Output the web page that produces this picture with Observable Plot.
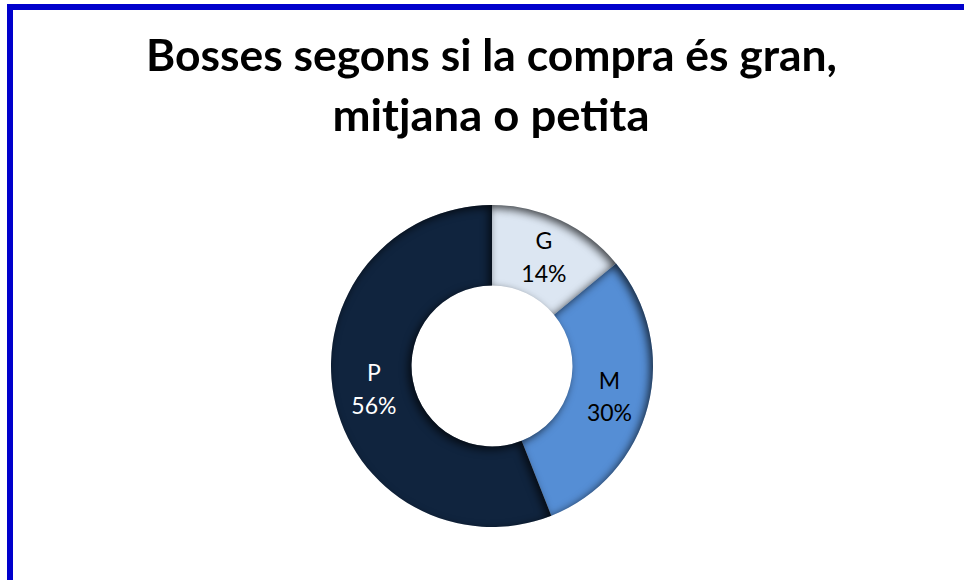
<!DOCTYPE html>
<html>
<head>
<meta charset="utf-8">
<script src="https://cdn.jsdelivr.net/npm/d3@7"></script>
<script src="https://cdn.jsdelivr.net/npm/@observablehq/plot@0.6"></script>
<style>
  html, body { margin: 0; padding: 0; background: #ffffff; }
  #wrap { position: relative; width: 964px; height: 580px; overflow: hidden; background: #ffffff; }
  #frame { position: absolute; left: 7px; top: 4px; width: 1100px; height: 900px; border: 6px solid #0000cc; box-sizing: border-box; }
  .tline { position: absolute; left: 9px; width: 964px; text-align: center; font-family: Lato, "Open Sans", sans-serif; font-weight: 700; font-size: 43px; line-height: 48px; color: #000; white-space: nowrap; }
  #chart { position: absolute; left: 0; top: 160px; }
</style>
</head>
<body>
<div id="wrap">
  <div id="frame"></div>
  <div class="tline" id="t1" style="top:31px"><span></span></div>
  <div class="tline" id="t2" style="top:91px"><span></span></div>
  <div id="chart"></div>
</div>
<script>
// ---- data ----
const titleLines = ["Bosses segons si la compra és gran,", "mitjana o petita"];
const categories = ["G", "M", "P"];
const values = [14, 30, 56];
const sliceColors = ["#dce6f2", "#558ed5", "#10243e"];
const labelColors = ["#000000", "#000000", "#ffffff"];
const titleWidths = [691, 317];

// ---- title ----
const ctx = document.createElement("canvas").getContext("2d");
ctx.font = "700 43px Lato";
["t1", "t2"].forEach((id, i) => {
  const el = document.querySelector("#" + id + " span");
  el.textContent = titleLines[i];
  el.style.display = "inline-block";
  const w = ctx.measureText(titleLines[i]).width;
  el.style.transform = `scaleX(${titleWidths[i] / w})`;
  el.style.transformOrigin = "center";
});

// ---- chart ----
const W = 964, H = 420;
const cx = 492, cy = 206;
const rInner = 80.5, rOuter = 161;

const rows = categories.map((c, i) => ({cat: c, value: values[i], label: labelColors[i]}));
const arcs = d3.pie().sort(null).value(d => d.value)(rows);
const arcGen = d3.arc().innerRadius(rInner).outerRadius(rOuter);
const color = Plot.scale({color: {domain: categories, range: sliceColors}});

function donut(index, scales, values, dimensions) {
  const g = d3.create("svg:g");
  const defs = g.append("defs");
  const f = defs.append("filter").attr("id", "inner-shadow")
    .attr("x", "-20%").attr("y", "-20%").attr("width", "140%").attr("height", "140%")
    .attr("color-interpolation-filters", "sRGB");
  f.append("feComponentTransfer").attr("in", "SourceAlpha").attr("result", "inv")
    .append("feFuncA").attr("type", "table").attr("tableValues", "1 0");
  f.append("feOffset").attr("in", "inv").attr("dx", -3).attr("dy", 3).attr("result", "off");
  f.append("feGaussianBlur").attr("in", "off").attr("stdDeviation", 4.5).attr("result", "blur");
  f.append("feFlood").attr("flood-color", "#000").attr("flood-opacity", 0.7).attr("result", "col");
  f.append("feComposite").attr("in", "col").attr("in2", "blur").attr("operator", "in").attr("result", "sh");
  f.append("feComposite").attr("in", "sh").attr("in2", "SourceAlpha").attr("operator", "in").attr("result", "shIn");
  const m = f.append("feMerge");
  m.append("feMergeNode").attr("in", "SourceGraphic");
  m.append("feMergeNode").attr("in", "shIn");

  g.append("g").attr("transform", `translate(${cx},${cy})`)
    .selectAll("path").data(arcs).join("path")
    .attr("d", arcGen)
    .attr("fill", d => color.apply(d.data.cat))
    .attr("filter", "url(#inner-shadow)");
  return g.node();
}

const chart = Plot.plot({
  width: W,
  height: H,
  margin: 0,
  style: {background: "transparent", overflow: "visible"},
  x: {type: "identity", axis: null},
  y: {type: "identity", axis: null},
  marks: [
    donut,
    Plot.text(arcs, {
      x: d => cx + arcGen.centroid(d)[0],
      y: d => cy + arcGen.centroid(d)[1],
      dy: -2,
      text: d => `${d.data.cat}\n${d.data.value}%`,
      fill: d => d.data.label,
      fontSize: 23,
      fontFamily: "Lato, 'Open Sans', sans-serif",
      lineHeight: 1.42,
      textAnchor: "middle"
    })
  ]
});
document.getElementById("chart").appendChild(chart);
</script>
</body>
</html>
